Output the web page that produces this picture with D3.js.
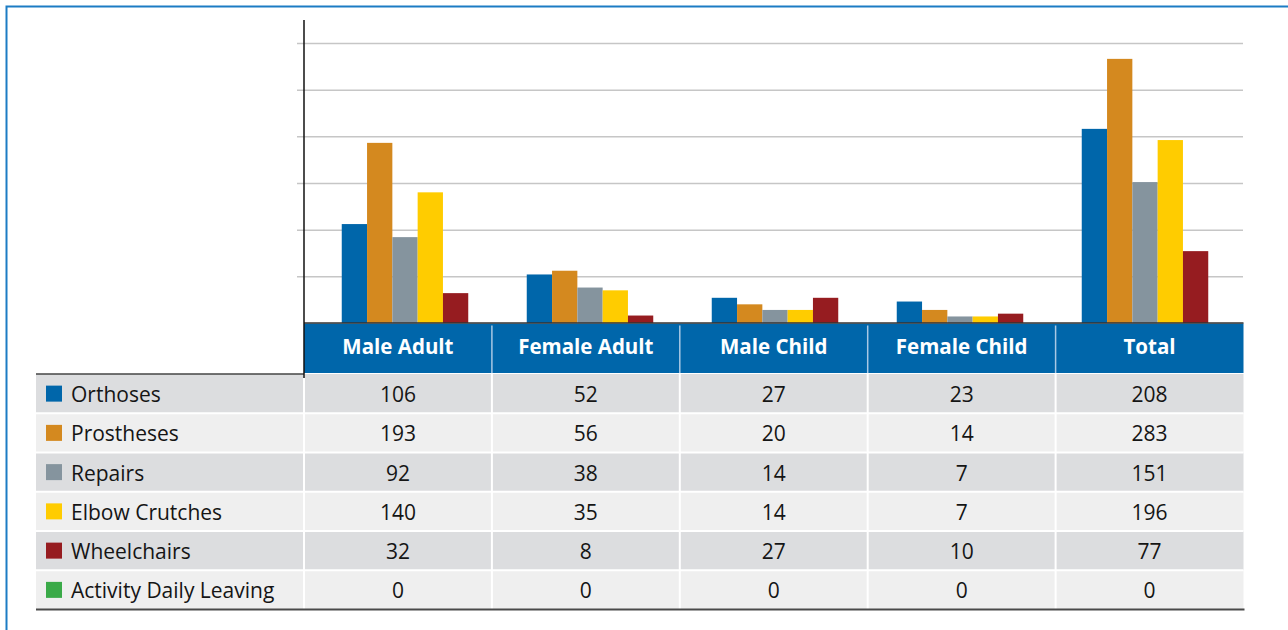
<!DOCTYPE html>
<html>
<meta charset="utf-8">
<title>Devices delivered</title>
<style>
body { margin: 0; background: #fff; }
svg { display: block; font-family: "Open Sans", "DejaVu Sans", sans-serif; }
.grid line { stroke: #c6c6c6; stroke-width: 1.5px; }
.grid path { display: none; }
.head text { fill: #fff; font-weight: 700; font-size: 20.5px; }
.body text { fill: #151515; font-size: 21px; }
</style>
<script src="https://d3js.org/d3.v7.min.js"></script>
<body>
<script>
const categories = ["Male Adult", "Female Adult", "Male Child", "Female Child", "Total"];
const seriesNames = ["Orthoses", "Prostheses", "Repairs", "Elbow Crutches", "Wheelchairs", "Activity Daily Leaving"];
const seriesColors = ["#0066aa", "#d4891f", "#85949e", "#ffcc00", "#961c20", "#3aaa48"];
const orthoses = [106, 52, 27, 23, 208];
const prostheses = [193, 56, 20, 14, 283];
const repairs = [92, 38, 14, 7, 151];
const elbowCrutches = [140, 35, 14, 7, 196];
const wheelchairs = [32, 8, 27, 10, 77];
const activityDaily = [0, 0, 0, 0, 0];
const yTicks = [50, 100, 150, 200, 250, 300];

const seriesValues = [orthoses, prostheses, repairs, elbowCrutches, wheelchairs, activityDaily];
const series = seriesNames.map((name, i) => ({name, color: seriesColors[i], values: seriesValues[i]}));

const W = 1288, H = 630;
const svg = d3.select("body").append("svg").attr("width", W).attr("height", H);

// outer frame (top and left edges only are visible)
svg.append("path")
  .attr("d", `M6.5,${H} V6.5 H${W}`)
  .attr("fill", "none").attr("stroke", "#1c7cc4").attr("stroke-width", 2);

const baseY = 323;
const y = d3.scaleLinear().domain([0, 300]).range([baseY, 43]);

// gridlines
svg.append("g").attr("class", "grid")
  .attr("transform", "translate(297,0)")
  .call(d3.axisLeft(y).tickValues(yTicks).tickSize(-946).tickFormat(""));

// bar positions
const x0 = d3.scaleBand().domain(categories).range([312.5, 1237.5]);
const barW = 25.3;
const x1 = d3.scaleBand().domain(seriesNames).range([0, barW * seriesNames.length]);
const groupShift = x0.bandwidth() / 2 - barW * 5 / 2;

const groups = svg.append("g").selectAll("g")
  .data(categories)
  .join("g")
  .attr("transform", d => `translate(${x0(d) + groupShift},0)`);

groups.selectAll("rect")
  .data((c, ci) => series.map(s => ({name: s.name, color: s.color, v: s.values[ci]})))
  .join("rect")
  .attr("x", d => x1(d.name))
  .attr("width", x1.bandwidth())
  .attr("y", d => y(d.v))
  .attr("height", d => baseY - y(d.v))
  .attr("fill", d => d.color);

// table
const tableLeft = 36, labelRight = 304, tableRight = 1243.5;
const colX = d3.scaleBand().domain(categories).range([labelRight, tableRight]);
const headTop = 323.5, headBottom = 373;
const rowY = d3.scaleBand().domain(seriesNames).range([374, 609.5]);

// header
const head = svg.append("g").attr("class", "head");
head.append("rect")
  .attr("x", labelRight).attr("y", headTop)
  .attr("width", tableRight - labelRight).attr("height", headBottom - headTop)
  .attr("fill", "#0066aa");
head.selectAll("line")
  .data(categories.slice(1))
  .join("line")
  .attr("x1", d => colX(d)).attr("x2", d => colX(d))
  .attr("y1", headTop + 2).attr("y2", headBottom)
  .attr("stroke", "#a9c8e4").attr("stroke-width", 1.5);
head.selectAll("text")
  .data(categories)
  .join("text")
  .attr("x", d => colX(d) + colX.bandwidth() / 2)
  .attr("y", (headTop + headBottom) / 2 - 1.5)
  .attr("dy", "0.35em")
  .attr("text-anchor", "middle")
  .text(d => d);

// body rows
const body = svg.append("g").attr("class", "body");
const rows = body.selectAll("g")
  .data(series)
  .join("g")
  .attr("transform", d => `translate(0,${rowY(d.name)})`);

rows.append("rect")
  .attr("x", tableLeft).attr("y", 0)
  .attr("width", tableRight - tableLeft).attr("height", rowY.bandwidth())
  .attr("fill", (d, i) => i % 2 === 0 ? "#dcdddf" : "#efefef");

rows.append("rect")
  .attr("x", 46).attr("y", rowY.bandwidth() / 2 - 8)
  .attr("width", 16).attr("height", 16)
  .attr("fill", d => d.color);

rows.append("text")
  .attr("x", 71).attr("y", rowY.bandwidth() / 2 + 1)
  .attr("dy", "0.36em")
  .text(d => d.name);

rows.selectAll("text.val")
  .data(d => d.values)
  .join("text")
  .attr("class", "val")
  .attr("x", (d, i) => colX(categories[i]) + colX.bandwidth() / 2)
  .attr("y", rowY.bandwidth() / 2 + 1)
  .attr("dy", "0.36em")
  .attr("text-anchor", "middle")
  .text(d => d);

// white separators between rows and columns
body.selectAll("line.h")
  .data(seriesNames.slice(1))
  .join("line")
  .attr("class", "h")
  .attr("x1", tableLeft).attr("x2", tableRight)
  .attr("y1", d => rowY(d)).attr("y2", d => rowY(d))
  .attr("stroke", "#fff").attr("stroke-width", 2);
body.selectAll("line.v")
  .data(categories)
  .join("line")
  .attr("class", "v")
  .attr("x1", d => colX(d)).attr("x2", d => colX(d))
  .attr("y1", 374).attr("y2", 609)
  .attr("stroke", "#fff").attr("stroke-width", 2);

// table rules
svg.append("line")
  .attr("x1", tableLeft).attr("x2", labelRight)
  .attr("y1", 374).attr("y2", 374)
  .attr("stroke", "#444").attr("stroke-width", 1.5);
svg.append("line")
  .attr("x1", tableLeft).attr("x2", tableRight + 1)
  .attr("y1", 609.5).attr("y2", 609.5)
  .attr("stroke", "#4a4a4a").attr("stroke-width", 2);

// baseline and vertical axis
svg.append("line")
  .attr("x1", labelRight).attr("x2", tableRight)
  .attr("y1", baseY).attr("y2", baseY)
  .attr("stroke", "#333").attr("stroke-width", 1.5);
svg.append("line")
  .attr("x1", labelRight).attr("x2", labelRight)
  .attr("y1", 20).attr("y2", 378)
  .attr("stroke", "#111").attr("stroke-width", 1.5);
</script>
</body>
</html>
